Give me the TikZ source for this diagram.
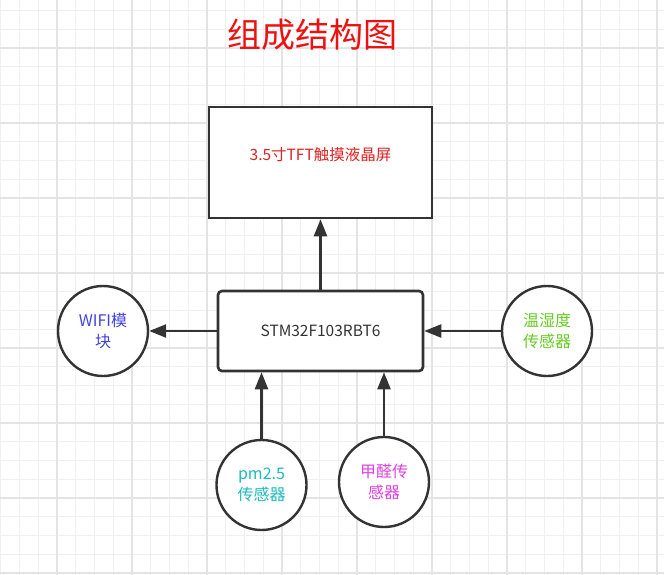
\documentclass[tikz,border=0pt]{standalone}
\usepackage{fontspec}
\setmainfont{Noto Sans CJK SC}
\usetikzlibrary{arrows.meta}
\definecolor{gridminor}{HTML}{F0F0F0}
\definecolor{gridmajor}{HTML}{E4E4E4}
\definecolor{edge}{HTML}{333333}
\definecolor{titlered}{HTML}{EE1111}
\definecolor{lcdred}{HTML}{E02020}
\definecolor{wifiblue}{HTML}{4444DD}
\definecolor{tempgreen}{HTML}{66CC22}
\definecolor{pmcyan}{HTML}{1CBCBC}
\definecolor{hchomag}{HTML}{E040E0}
\tikzset{
  minorgrid/.style={draw=gridminor, line width=1pt},
  majorgrid/.style={draw=gridmajor, line width=1.2pt},
  boxstyle/.style={draw=edge, line width=2.6pt, fill=white, inner sep=0pt},
  circstyle/.style={draw=edge, line width=2.4pt, fill=white, circle, minimum size=90pt, inner sep=0pt, align=center, font=\fontsize{16}{21}\selectfont},
  conn/.style={draw=edge, line width=2.4pt, -{Triangle[length=17pt,width=13pt]}},
}
\begin{document}
\begin{tikzpicture}[x=1pt,y=-1pt]
\useasboundingbox (0,0) rectangle (664,575);
\fill[white] (0,0) rectangle (664,575);
\foreach \i in {0,...,35} {
  \draw[minorgrid] ({0.75+18.75*\i},0) -- ({0.75+18.75*\i},575);
}
\foreach \i in {0,...,31} {
  \draw[minorgrid] (0,{10.5+18.75*\i}) -- (664,{10.5+18.75*\i});
}
\foreach \i in {0,...,8} {
  \draw[majorgrid] ({57+75*\i},0) -- ({57+75*\i},575);
}
\foreach \i in {0,...,7} {
  \draw[majorgrid] (0,{48+75*\i}) -- (664,{48+75*\i});
}
\node[text=titlered, font=\fontsize{34}{40}\selectfont] (title) at (312,35) {组成结构图};
\node[boxstyle, minimum width=223pt, minimum height=111pt] (lcd) at (320.5,162.5) {};
\node[text=lcdred, font=\fontsize{15.5}{18}\selectfont] (lcdtext) at (320.5,155) {3.5寸TFT触摸液晶屏};
\node[boxstyle, rounded corners=4pt, minimum width=205pt, minimum height=80pt, text=edge, font=\fontsize{15.5}{18}\selectfont] (mcu) at (320.5,331) {STM32F103RBT6};
\node[circstyle, text=wifiblue] (wifi) at (103,331) {WIFI模\\块};
\node[circstyle, text=tempgreen] (temp) at (547,331) {温湿度\\传感器};
\node[circstyle, text=pmcyan] (pm) at (261.5,485) {pm2.5\\传感器};
\node[circstyle, text=hchomag] (hcho) at (384,482) {甲醛传\\感器};
\draw[conn] (mcu.north) -- (lcd.south);
\draw[conn] (mcu.west) -- (wifi.east);
\draw[conn] (temp.west) -- (mcu.east |- temp.west);
\draw[conn] (pm.north) -- (pm.north |- mcu.south);
\draw[conn] (hcho.north) -- (hcho.north |- mcu.south);
\end{tikzpicture}
\end{document}
